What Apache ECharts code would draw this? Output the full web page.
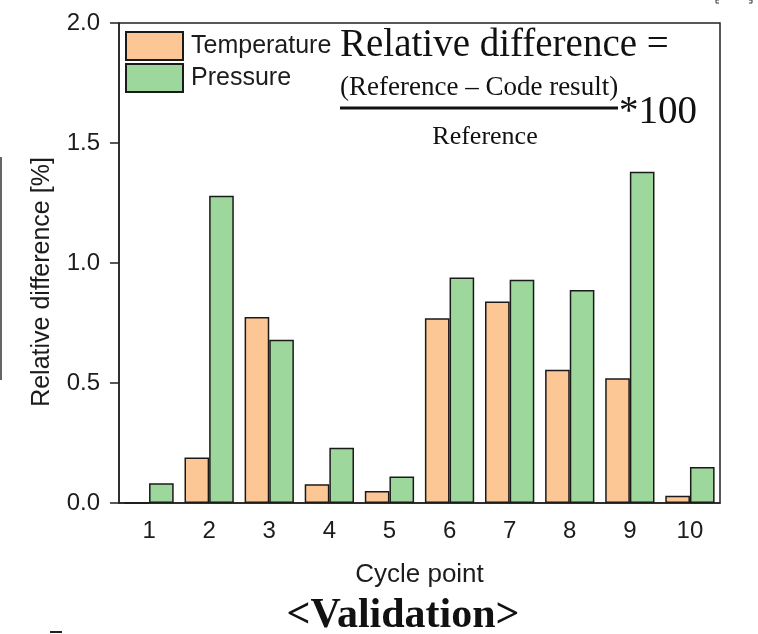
<!DOCTYPE html>
<html>
<head>
<meta charset="utf-8">
<script src="https://cdn.jsdelivr.net/npm/echarts@6/dist/echarts.min.js"></script>
<style>html,body{margin:0;padding:0;background:#fff;}#c{width:758px;height:634px;}</style>
</head>
<body>
<div id="c"></div>
<script>
const categories = ['1','2','3','4','5','6','7','8','9','10'];
const temperature = [0, 0.19, 0.775, 0.078, 0.05, 0.77, 0.84, 0.555, 0.52, 0.03];
const pressure = [0.082, 1.28, 0.68, 0.23, 0.11, 0.94, 0.93, 0.888, 1.38, 0.15];
const yTicks = [0, 0.5, 1.0, 1.5, 2.0];

const sans = 'Liberation Sans, Arial, sans-serif';
const serif = 'Liberation Serif, Times New Roman, serif';
const ink = '#1c1c1c';
const chart = echarts.init(document.getElementById('c'), null, {renderer: 'canvas'});
chart.setOption({
  animation: false,
  backgroundColor: '#fff',
  grid: {left: 119, right: 38, top: 23, bottom: 131, show: true, borderColor: '#222', borderWidth: 1.5, backgroundColor: 'transparent'},
  legend: {
    orient: 'vertical', left: 125, top: 31, itemWidth: 57, itemHeight: 28, itemGap: 2, padding: 0,
    icon: 'rect',
    textStyle: {fontFamily: sans, fontSize: 25, color: ink, padding: [0,0,0,3]},
    data: ['Temperature', 'Pressure']
  },
  xAxis: {
    type: 'category', data: categories,
    name: 'Cycle point', nameLocation: 'middle', nameGap: 59,
    nameTextStyle: {fontFamily: sans, fontSize: 26, color: ink},
    axisLine: {lineStyle: {color: '#222', width: 1.5}},
    axisTick: {alignWithLabel: true, inside: false, length: 9, lineStyle: {color: '#222', width: 1.5}},
    axisLabel: {fontFamily: sans, fontSize: 24, color: ink, margin: 16}
  },
  yAxis: {
    type: 'value', min: yTicks[0], max: yTicks[yTicks.length-1], interval: 0.5,
    axisLine: {show: true, lineStyle: {color: '#222', width: 1.5}},
    axisTick: {show: true, inside: false, length: 9, lineStyle: {color: '#222', width: 1.5}},
    splitLine: {show: false},
    axisLabel: {fontFamily: sans, fontSize: 24, color: ink, margin: 19, formatter: v => v.toFixed(1)}
  },
  series: [
    {name: 'Temperature', type: 'bar', data: temperature, barGap: '0%', barCategoryGap: '18%',
     itemStyle: {color: '#FCC795', borderColor: '#1a1a1a', borderWidth: 1.5}},
    {name: 'Pressure', type: 'bar', data: pressure, barGap: '0%', barCategoryGap: '18%',
     itemStyle: {color: '#9ED79B', borderColor: '#1a1a1a', borderWidth: 1.5}}
  ],
  graphic: [
    {type: 'text', x: 42, y: 282, rotation: Math.PI / 2,
     style: {text: 'Relative difference [%]', font: '25px ' + sans, fill: ink, align: 'center', verticalAlign: 'middle'}},
    {type: 'text', x: 340, y: 46, style: {text: 'Relative difference =', font: '39px ' + serif, fill: '#111', verticalAlign: 'middle'}},
    {type: 'text', x: 340, y: 88, style: {text: '(Reference \u2013 Code result)', font: '27px ' + serif, fill: '#111', verticalAlign: 'middle'}},
    {type: 'line', shape: {x1: 340, y1: 108, x2: 618, y2: 108}, style: {stroke: '#111', lineWidth: 3}},
    {type: 'text', x: 619, y: 113, style: {text: '*100', font: '39px ' + serif, fill: '#111', verticalAlign: 'middle'}},
    {type: 'text', x: 485, y: 137, style: {text: 'Reference', font: '26px ' + serif, fill: '#111', align: 'center', verticalAlign: 'middle'}},
    {type: 'text', x: 403, y: 616, style: {text: '<Validation>', font: 'bold 42px ' + serif, fill: '#111', align: 'center', verticalAlign: 'middle'}},
    {type: 'line', shape: {x1: 1, y1: 157, x2: 1, y2: 380}, style: {stroke: '#666', lineWidth: 2}},
    {type: 'line', shape: {x1: 50, y1: 632, x2: 62, y2: 632}, style: {stroke: '#222', lineWidth: 2}},
    {type: 'polyline', shape: {points: [[719, 0], [716, 0], [716, 3], [719, 3]]}, style: {stroke: '#333', lineWidth: 1, fill: 'none'}},
    {type: 'polyline', shape: {points: [[749, 0], [752, 0], [752, 3], [749, 3]]}, style: {stroke: '#333', lineWidth: 1, fill: 'none'}}
  ]
});
</script>
</body>
</html>
